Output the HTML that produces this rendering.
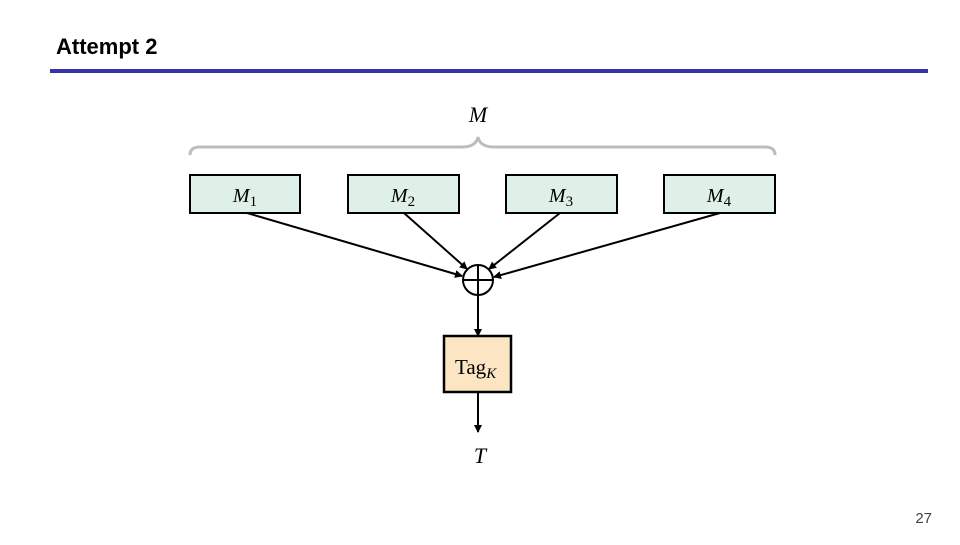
<!DOCTYPE html>
<html><head><style>
body{margin:0;width:960px;height:540px;background:#fff;overflow:hidden;font-family:"Liberation Sans",sans-serif}
</style></head><body>
<svg width="960" height="540" xmlns="http://www.w3.org/2000/svg">
<defs><marker id="a" markerWidth="8" markerHeight="8" refX="7" refY="4" orient="auto" markerUnits="userSpaceOnUse"><path d="M0,0 L8,4 L0,8 z" fill="#000"/></marker></defs>
<text x="56" y="54" font-size="22" font-weight="bold" font-family="Liberation Sans">Attempt 2</text>
<rect x="50" y="69" width="878" height="4" fill="#3535a8"/>
<text x="478" y="122" font-size="22" font-style="italic" font-family="Liberation Serif" text-anchor="middle">M</text>
<path d="M190,155 Q190,147 200,147 L462,147 Q476,147 478,137 Q480,147 494,147 L765,147 Q775,147 775,155" fill="none" stroke="#bdbdbd" stroke-width="3"/>
<g stroke="#000" stroke-width="2" fill="#dff0e8">
<rect x="190" y="175" width="110" height="38"/><rect x="348" y="175" width="111" height="38"/>
<rect x="506" y="175" width="111" height="38"/><rect x="664" y="175" width="111" height="38"/>
</g>
<g font-family="Liberation Serif" font-size="20" font-style="italic" text-anchor="middle">
<text x="245" y="202">M<tspan font-style="normal" font-size="15" dy="4">1</tspan></text>
<text x="403" y="202">M<tspan font-style="normal" font-size="15" dy="4">2</tspan></text>
<text x="561" y="202">M<tspan font-style="normal" font-size="15" dy="4">3</tspan></text>
<text x="719" y="202">M<tspan font-style="normal" font-size="15" dy="4">4</tspan></text>
</g>
<g stroke="#000" stroke-width="2" marker-end="url(#a)">
<line x1="247" y1="213" x2="462" y2="276"/>
<line x1="404" y1="213" x2="467" y2="269"/>
<line x1="560" y1="213" x2="489" y2="269"/>
<line x1="720" y1="213" x2="494" y2="277"/>
<line x1="478" y1="295" x2="478" y2="336"/>
<line x1="478" y1="392" x2="478" y2="432"/>
</g>
<circle cx="478" cy="280" r="15" fill="none" stroke="#000" stroke-width="2"/>
<line x1="463" y1="280" x2="493" y2="280" stroke="#000" stroke-width="2"/>
<line x1="478" y1="265" x2="478" y2="295" stroke="#000" stroke-width="2"/>
<rect x="444" y="336" width="67" height="56" fill="#fbe5c3" stroke="#000" stroke-width="2.5"/>
<text x="455" y="374" font-family="Liberation Serif" font-size="21">Tag<tspan font-style="italic" font-size="15" dy="4">K</tspan></text>
<text x="480" y="463" font-family="Liberation Serif" font-size="22" font-style="italic" text-anchor="middle">T</text>
<text x="932" y="523" font-size="15" fill="#444" text-anchor="end">27</text>
</svg>
</body></html>
